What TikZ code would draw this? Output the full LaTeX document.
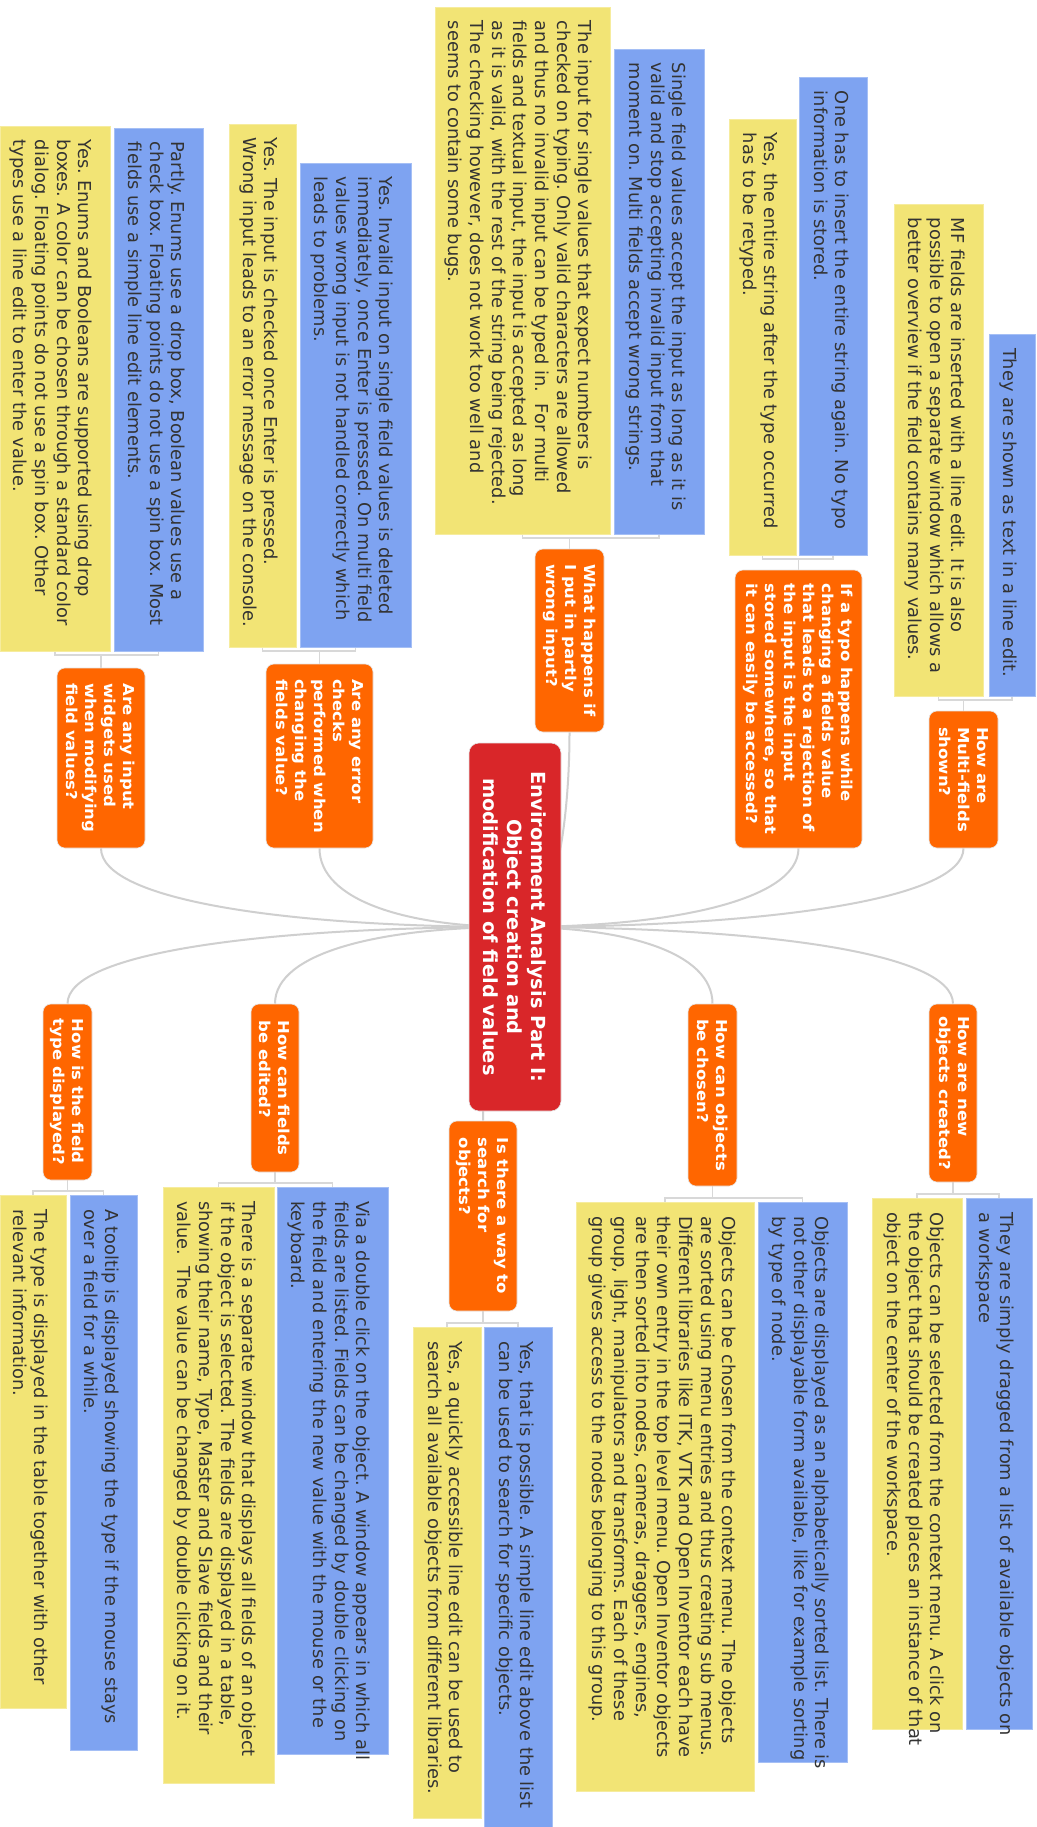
\documentclass[tikz,border=0pt]{standalone}
\usepackage{fontspec}
\setmainfont{DejaVu Sans}
\newfontfamily\qfam[FakeStretch=1.1]{DejaVu Sans}

\definecolor{qorange}{HTML}{FF6600}
\definecolor{rootred}{HTML}{D92629}
\definecolor{ansblue}{HTML}{7EA3F1}
\definecolor{ansyellow}{HTML}{F2E475}
\definecolor{inktext}{HTML}{333333}
\definecolor{linkgray}{HTML}{CFCFCF}
\definecolor{forkgray}{HTML}{D8D8D8}

\newcommand\ansfont{\fontsize{17.8pt}{21.7pt}\selectfont\frenchspacing}
\newcommand\qfont{\qfam\fontsize{15pt}{19pt}\selectfont\bfseries\frenchspacing}
\newcommand\rootfont{\fontsize{19.4pt}{24pt}\selectfont\bfseries}

% answer text: box of #1 x #2 (local width x height), text starting top left
\newcommand\atext[3]{\parbox[c][\dimexpr#2pt-32pt\relax][t]{\dimexpr#1pt-28pt\relax}{\begin{tabular}{@{}l@{}}#3\end{tabular}}}

\pgfdeclarelayer{back}
\pgfsetlayers{back,main}

\tikzset{
  rootbox/.style={rotate=-90, fill=rootred, draw=black!10, line width=0.6pt,
    rounded corners=10pt, text=white, font=\rootfont, align=center, inner sep=0pt},
  qbox/.style={rotate=-90, fill=qorange, draw=black!10, line width=0.6pt,
    rounded corners=8pt, text=white, font=\qfont, align=left, inner sep=0pt},
  ansbox/.style={rotate=-90, inner xsep=14pt, inner ysep=16pt, text=inktext,
    font=\ansfont, line width=0.6pt},
  bluebox/.style={ansbox, fill=ansblue, draw=ansblue!70!white},
  yellowbox/.style={ansbox, fill=ansyellow, draw=ansyellow!70!white},
  link/.style={draw=linkgray, line width=2pt},
  fork/.style={draw=forkgray, line width=1.2pt},
}

\begin{document}
\begin{tikzpicture}[x=1pt, y=-1pt]
\useasboundingbox (0,0) rectangle (1036,1827);

% central topic
\node[rootbox, minimum width=368pt, minimum height=92pt] (root) at (515,927)
  {Environment Analysis Part I:\\Object creation and\\modification of field values};

% questions
\node[qbox, minimum width=137pt, minimum height=69pt] (q1) at (963.5,779.5) {How are\\Multi-fields\\shown?};
\node[qbox, minimum width=278pt, minimum height=127pt] (q2) at (798.5,709) {If a typo happens while\\changing a fields value\\that leads to a rejection of\\the input is the input\\stored somewhere, so that\\it can easily be accessed?};
\node[qbox, minimum width=183pt, minimum height=69pt] (q3) at (569.5,640.5) {What happens if\\I put in partly\\wrong input?};
\node[qbox, minimum width=184pt, minimum height=107pt] (q4) at (319.5,756) {Are any error\\checks\\performed when\\changing the\\fields value?};
\node[qbox, minimum width=180pt, minimum height=88pt] (q5) at (101,758) {Are any input\\widgets used\\when modifying\\field values?};
\node[qbox, minimum width=178pt, minimum height=48pt] (q6) at (953,1093) {How are new\\objects created?};
\node[qbox, minimum width=182pt, minimum height=49pt] (q7) at (712.5,1095) {How can objects\\be chosen?};
\node[qbox, minimum width=190pt, minimum height=68pt] (q8) at (483,1216) {Is there a way to\\search for\\objects?};
\node[qbox, minimum width=168pt, minimum height=48pt] (q9) at (275,1088) {How can fields\\be edited?};
\node[qbox, minimum width=176pt, minimum height=49pt] (q10) at (67.5,1092) {How is the field\\type displayed?};

% answers
\node[bluebox] (b1) at (1012,515) {\atext{362}{46}{They are shown as text in a line edit.}};
\node[yellowbox] (y1) at (938.5,450) {\atext{492}{89}{MF fields are inserted with a line edit. It is also\\possible to open a separate window which allows a\\better overview if the field contains many values.}};

\node[bluebox] (b2) at (833,316) {\atext{478}{68}{One has to insert the entire string again. No typo\\information is stored.}};
\node[yellowbox] (y2) at (762.5,337) {\atext{436}{67}{Yes, the entire string after the type occurred\\has to be retyped.}};

\node[bluebox] (b3) at (659,291.5) {\atext{485}{90}{Single field values accept the input as long as it is\\valid and stop accepting invalid input from that\\moment on. Multi fields accept wrong strings.}};
\node[yellowbox] (y3) at (522.5,270.5) {\atext{527}{175}{The input for single values that expect numbers is\\checked on typing. Only valid characters are allowed\\and thus no invalid input can be typed in.\ \ For multi\\fields and textual input, the input is accepted as long\\as it is valid, with the rest of the string being rejected.\\The checking however, does not work too well and\\seems to contain some bugs.}};

\node[bluebox] (b4) at (355.5,405) {\atext{484}{111}{Yes. Invalid input on single field values is deleted\\immediately, once Enter is pressed. On multi field\\values wrong input is not handled correctly which\\leads to problems.}};
\node[yellowbox] (y4) at (262.5,385.5) {\atext{523}{67}{Yes. The input is checked once Enter is pressed.\\Wrong input leads to an error message on the console.}};

\node[bluebox] (b5) at (158.5,389.5) {\atext{523}{89}{Partly. Enums use a drop box, Boolean values use a\\check box. Floating points do not use a spin box. Most\\fields use a simple line edit elements.}};
\node[yellowbox] (y5) at (55,388.5) {\atext{525}{110}{Yes. Enums and Booleans are supported using drop\\boxes. A color can be chosen through a standard color\\dialog. Floating points do not use a spin box. Other\\types use a line edit to enter the value.}};

\node[bluebox] (b6) at (999,1463.5) {\atext{531}{66}{They are simply dragged from a list of available objects on\\a workspace}};
\node[yellowbox] (y6) at (917,1463.5) {\atext{531}{90}{Objects can be selected from the context menu. A click on\\the object that should be created places an instance of that\\object on the center of the workspace.}};

\node[bluebox] (b7) at (802.5,1482) {\atext{560}{89}{Objects are displayed as an alphabetically sorted list. There is\\not other displayable form available, like for example sorting\\by type of node.}};
\node[yellowbox] (y7) at (665,1496.5) {\atext{589}{178}{Objects can be chosen from the context menu. The objects\\are sorted using menu entries and thus creating sub menus.\\Different libraries like ITK, VTK and Open Inventor each have\\their own entry in the top level menu. Open Inventor objects\\are then sorted into nodes, cameras, draggers, engines,\\group, light, manipulators and transforms. Each of these\\group gives access to the nodes belonging to this group.}};

\node[bluebox] (b8) at (518,1577) {\atext{500}{68}{Yes, that is possible. A simple line edit above the list\\can be used to search for specific objects.}};
\node[yellowbox] (y8) at (447,1572.5) {\atext{491}{68}{Yes, a quickly accessible line edit can be used to\\search all available objects from different libraries.}};

\node[bluebox] (b9) at (332.5,1470.5) {\atext{567}{111}{Via a double click on the object. A window appears in which all\\fields are listed. Fields can be changed by double clicking on\\the field and entering the new value with the mouse or the\\keyboard.}};
\node[yellowbox] (y9) at (218.5,1485) {\atext{596}{111}{There is a separate window that displays all fields of an object\\if the object is selected. The fields are displayed in a table,\\showing their name, Type, Master and Slave fields and their\\value.\ \ The value can be changed by double clicking on it.}};

\node[bluebox] (b10) at (103.5,1472.5) {\atext{555}{67}{A tooltip is displayed showing the type if the mouse stays\\over a field for a while.}};
\node[yellowbox] (y10) at (33,1451.5) {\atext{513}{66}{The type is displayed in the table together with other\\relevant information.}};

% fork points between questions and their answers
\coordinate (k1) at (963.5,700);
\coordinate (k2) at (798.5,559);
\coordinate (k3) at (569.5,538);
\coordinate (k4) at (319.5,651);
\coordinate (k5) at (101,655);
\coordinate (k6) at (953,1194);
\coordinate (k7) at (712.5,1198);
\coordinate (k8) at (483,1323);
\coordinate (k9) at (275,1183);
\coordinate (k10) at (67.5,1191);

\begin{pgfonlayer}{back}
  \fill[white] (0,0) rectangle (1036,1827);

  % branches from the central topic
  \draw[link] (root.center) .. controls +(247,0) and +(0,52) .. (q1.east);
  \draw[link] (root.center) .. controls +(156,0) and +(0,52) .. (q2.east);
  \draw[link] (root.center) .. controls +(45,0) and +(0,68) .. (q3.east);
  \draw[link] (root.center) .. controls +(-108,0) and +(0,52) .. (q4.east);
  \draw[link] (root.center) .. controls +(-228,0) and +(0,52) .. (q5.east);
  \draw[link] (root.center) .. controls +(241,0) and +(0,-52) .. (q6.west);
  \draw[link] (root.center) .. controls +(109,0) and +(0,-52) .. (q7.west);
  \draw[link] (root.center) .. controls +(-30,0) and +(0,-60) .. (q8.west);
  \draw[link] (root.center) .. controls +(-132,0) and +(0,-52) .. (q9.west);
  \draw[link] (root.center) .. controls +(-246,0) and +(0,-52) .. (q10.west);

  % forks to the answers
  \foreach \i in {1,...,5}{
    \draw[fork] (y\i.east) |- (k\i) -| (b\i.east);
    \draw[fork] (q\i.west) -- (k\i);
  }
  \foreach \i in {6,...,10}{
    \draw[fork] (y\i.west) |- (k\i) -| (b\i.west);
    \draw[fork] (q\i.east) -- (k\i);
  }
\end{pgfonlayer}
\end{tikzpicture}
\end{document}
